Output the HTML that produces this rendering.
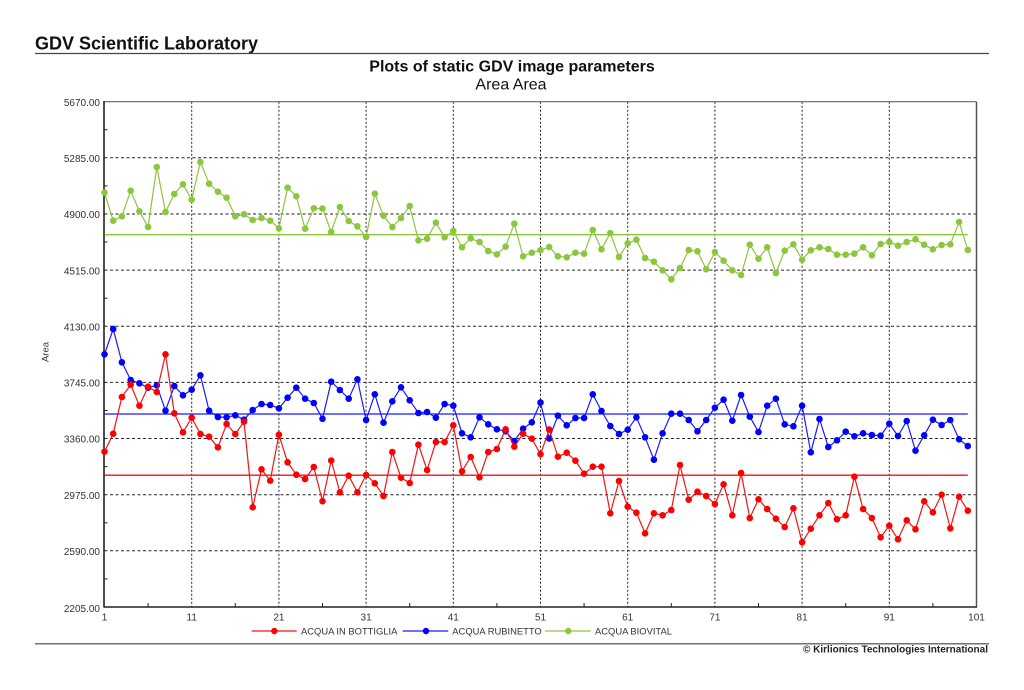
<!DOCTYPE html>
<html><head><meta charset="utf-8"><style>
html,body{margin:0;padding:0;background:#fff;}
body{width:1024px;height:690px;overflow:hidden;}
svg{display:block;font-family:"Liberation Sans",Arial,sans-serif;}
</style></head><body>
<svg width="1024" height="690" viewBox="0 0 1024 690" xmlns="http://www.w3.org/2000/svg">
<defs>
<marker id="mr" markerUnits="userSpaceOnUse" markerWidth="8" markerHeight="8" refX="4" refY="4"><circle cx="4" cy="4" r="3.3" fill="#f00"/></marker>
<marker id="mb" markerUnits="userSpaceOnUse" markerWidth="8" markerHeight="8" refX="4" refY="4"><circle cx="4" cy="4" r="3.3" fill="#0000ff"/></marker>
<marker id="mg" markerUnits="userSpaceOnUse" markerWidth="8" markerHeight="8" refX="4" refY="4"><circle cx="4" cy="4" r="3.3" fill="#8cc63e"/></marker>
</defs>
<!-- header -->
<text x="35" y="49.5" font-size="18" font-weight="bold" fill="#111">GDV Scientific Laboratory</text>
<line x1="35" y1="53.5" x2="989" y2="53.5" stroke="#444" stroke-width="1.2"/>
<text x="512" y="71.5" font-size="16" font-weight="bold" fill="#111" text-anchor="middle">Plots of static GDV image parameters</text>
<text x="511" y="89.5" font-size="16" fill="#111" text-anchor="middle">Area Area</text>

<!-- grid -->
<g stroke="#222" stroke-width="1" stroke-dasharray="3,2.5" fill="none">
<line x1="104.5" y1="157.8" x2="976.5" y2="157.8"/>
<line x1="104.5" y1="214" x2="976.5" y2="214"/>
<line x1="104.5" y1="270.1" x2="976.5" y2="270.1"/>
<line x1="104.5" y1="326.3" x2="976.5" y2="326.3"/>
<line x1="104.5" y1="382.4" x2="976.5" y2="382.4"/>
<line x1="104.5" y1="438.5" x2="976.5" y2="438.5"/>
<line x1="104.5" y1="494.7" x2="976.5" y2="494.7"/>
<line x1="104.5" y1="550.8" x2="976.5" y2="550.8"/>
</g>
<g stroke="#222" stroke-width="1" stroke-dasharray="2,2" fill="none">
<line x1="191.7" y1="101.7" x2="191.7" y2="607"/>
<line x1="278.9" y1="101.7" x2="278.9" y2="607"/>
<line x1="366.1" y1="101.7" x2="366.1" y2="607"/>
<line x1="453.3" y1="101.7" x2="453.3" y2="607"/>
<line x1="540.5" y1="101.7" x2="540.5" y2="607"/>
<line x1="627.7" y1="101.7" x2="627.7" y2="607"/>
<line x1="714.9" y1="101.7" x2="714.9" y2="607"/>
<line x1="802.1" y1="101.7" x2="802.1" y2="607"/>
<line x1="889.3" y1="101.7" x2="889.3" y2="607"/>
</g>
<!-- frame -->
<line x1="104" y1="101.7" x2="976.5" y2="101.7" stroke="#666" stroke-width="1.2"/>
<line x1="976.5" y1="101.7" x2="976.5" y2="607" stroke="#555" stroke-width="1.5"/>
<line x1="104" y1="101" x2="104" y2="607.5" stroke="#222" stroke-width="1.6"/>
<line x1="104" y1="607" x2="977" y2="607" stroke="#222" stroke-width="1.6"/>
<!-- minor ticks -->
<g stroke="#222" stroke-width="1">
<line x1="104" y1="129.7" x2="107.5" y2="129.7"/>
<line x1="104" y1="185.9" x2="107.5" y2="185.9"/>
<line x1="104" y1="242" x2="107.5" y2="242"/>
<line x1="104" y1="298.2" x2="107.5" y2="298.2"/>
<line x1="104" y1="354.3" x2="107.5" y2="354.3"/>
<line x1="104" y1="410.5" x2="107.5" y2="410.5"/>
<line x1="104" y1="466.6" x2="107.5" y2="466.6"/>
<line x1="104" y1="522.8" x2="107.5" y2="522.8"/>
<line x1="104" y1="578.9" x2="107.5" y2="578.9"/>
<line x1="148.1" y1="607" x2="148.1" y2="603"/>
<line x1="235.3" y1="607" x2="235.3" y2="603"/>
<line x1="322.5" y1="607" x2="322.5" y2="603"/>
<line x1="409.7" y1="607" x2="409.7" y2="603"/>
<line x1="496.9" y1="607" x2="496.9" y2="603"/>
<line x1="584.1" y1="607" x2="584.1" y2="603"/>
<line x1="671.3" y1="607" x2="671.3" y2="603"/>
<line x1="758.5" y1="607" x2="758.5" y2="603"/>
<line x1="845.7" y1="607" x2="845.7" y2="603"/>
<line x1="932.9" y1="607" x2="932.9" y2="603"/>
</g>
<!-- y labels -->
<g font-size="10" fill="#333" text-anchor="end">
<text x="100" y="106">5670.00</text>
<text x="100" y="162">5285.00</text>
<text x="100" y="218.2">4900.00</text>
<text x="100" y="274.3">4515.00</text>
<text x="100" y="330.5">4130.00</text>
<text x="100" y="386.6">3745.00</text>
<text x="100" y="442.7">3360.00</text>
<text x="100" y="498.9">2975.00</text>
<text x="100" y="555">2590.00</text>
<text x="100" y="612">2205.00</text>
</g>
<text transform="translate(48.5,352) rotate(-90)" font-size="9.5" fill="#333" text-anchor="middle">Area</text>
<!-- x labels -->
<g font-size="10" fill="#333" text-anchor="middle">
<text x="104.5" y="620.5">1</text>
<text x="191.7" y="620.5">11</text>
<text x="278.9" y="620.5">21</text>
<text x="366.1" y="620.5">31</text>
<text x="453.3" y="620.5">41</text>
<text x="540.5" y="620.5">51</text>
<text x="627.7" y="620.5">61</text>
<text x="714.9" y="620.5">71</text>
<text x="802.1" y="620.5">81</text>
<text x="889.3" y="620.5">91</text>
<text x="976.5" y="620.5">101</text>
</g>

<!-- mean lines -->
<line x1="104.5" y1="234.7" x2="967.8" y2="234.7" stroke="#8cc63e" stroke-width="1.3"/>
<line x1="104.5" y1="414" x2="967.8" y2="414" stroke="#1a1aff" stroke-width="1.3"/>
<line x1="104.5" y1="475.2" x2="967.8" y2="475.2" stroke="#f01515" stroke-width="1.3"/>

<!-- green series -->
<polyline fill="none" stroke="#8cc63e" stroke-width="1.2" marker-start="url(#mg)" marker-mid="url(#mg)" marker-end="url(#mg)" points="104.5,192.7 113.2,220.7 121.9,216.3 130.7,190.7 139.4,211.3 148.1,227 156.8,167 165.5,212 174.3,194 183,184.3 191.7,199.7 200.4,162 209.1,183.7 217.9,191.7 226.6,197.7 235.3,216.3 244,214.3 252.7,220 261.5,218 270.2,220.7 278.9,228.3 287.6,187.7 296.3,196.3 305.1,228.7 313.8,208.3 322.5,208.5 331.2,232 339.9,207 348.7,221 357.4,226.3 366.1,237 374.8,193.7 383.5,215.7 392.3,227 401,218 409.7,206 418.4,240.3 427.1,238.7 435.9,222.7 444.6,237.3 453.3,231 462,247.3 470.7,238.3 479.5,242 488.2,251 496.9,254.3 505.6,246.7 514.3,223.7 523.1,256.3 531.8,252.7 540.5,250.2 549.2,247 557.9,256.3 566.7,257.3 575.4,252.7 584.1,253.7 592.8,230 601.5,249.3 610.3,233 619,257 627.7,243.3 636.4,239.7 645.1,258 653.9,261.7 662.6,270.3 671.3,279.3 680,268 688.7,250 697.5,251.3 706.2,269.3 714.9,252 723.6,260.7 732.3,270.3 741.1,275 749.8,244.7 758.5,258.7 767.2,247.3 775.9,273 784.7,250.7 793.4,244.3 802.1,259.7 810.8,250.3 819.5,247.3 828.3,249 837,254.7 845.7,254.7 854.4,253.7 863.1,247.3 871.9,255.3 880.6,244 889.3,242 898,245.7 906.7,242 915.5,239.3 924.2,244.7 932.9,249.3 941.6,245 950.3,244.3 959.1,222 967.8,250"/>

<!-- blue series -->
<polyline fill="none" stroke="#1a1aff" stroke-width="1.2" marker-start="url(#mb)" marker-mid="url(#mb)" marker-end="url(#mb)" points="104.5,354.3 113.2,329 121.9,362.3 130.7,380 139.4,383.3 148.1,387.7 156.8,385.3 165.5,410.7 174.3,386 183,395.3 191.7,389.7 200.4,375.3 209.1,410.7 217.9,417 226.6,417.3 235.3,415.3 244,419.7 252.7,410 261.5,404 270.2,405 278.9,408.3 287.6,397.7 296.3,387.7 305.1,398.7 313.8,403 322.5,418.8 331.2,381.7 339.9,390 348.7,398.7 357.4,379.3 366.1,420 374.8,394.3 383.5,422.7 392.3,401.3 401,387.3 409.7,400.3 418.4,413 427.1,412 435.9,417.7 444.6,404 453.3,405.7 462,433.3 470.7,437.3 479.5,417.3 488.2,424.3 496.9,429.3 505.6,431.3 514.3,441 523.1,428.7 531.8,422.3 540.5,402.5 549.2,438.5 557.9,415.7 566.7,425.3 575.4,418 584.1,418 592.8,394.3 601.5,411 610.3,426 619,434 627.7,429.7 636.4,417.3 645.1,437.3 653.9,459.7 662.6,433.3 671.3,413.7 680,413.7 688.7,420 697.5,431.3 706.2,420 714.9,407.7 723.6,399.7 732.3,420.7 741.1,395 749.8,416.7 758.5,432 767.2,405.7 775.9,398.7 784.7,424.3 793.4,426.3 802.1,405.7 810.8,452.3 819.5,419 828.3,447 837,440.3 845.7,431.7 854.4,436.3 863.1,433.3 871.9,435 880.6,435.7 889.3,423.7 898,436 906.7,421 915.5,450.7 924.2,435.3 932.9,419.7 941.6,425 950.3,420 959.1,439.3 967.8,446"/>

<!-- red series -->
<polyline fill="none" stroke="#f01515" stroke-width="1.2" marker-start="url(#mr)" marker-mid="url(#mr)" marker-end="url(#mr)" points="104.5,451.7 113.2,433.7 121.9,397 130.7,384.7 139.4,405.7 148.1,386.7 156.8,392 165.5,354.3 174.3,413.3 183,432.3 191.7,417.7 200.4,434 209.1,436.7 217.9,447.3 226.6,424 235.3,434 244,421.7 252.7,507.3 261.5,469.3 270.2,480.7 278.9,434.7 287.6,462.3 296.3,474.7 305.1,479 313.8,467 322.5,501.2 331.2,460.5 339.9,492.3 348.7,475.7 357.4,492.3 366.1,475 374.8,483.3 383.5,496 392.3,452 401,477.7 409.7,483 418.4,444.7 427.1,470 435.9,442 444.6,442 453.3,425.3 462,471.3 470.7,457 479.5,477.3 488.2,452 496.9,449 505.6,429.3 514.3,446.7 523.1,433.7 531.8,438.7 540.5,454.2 549.2,429.5 557.9,456.7 566.7,452.7 575.4,460.7 584.1,473.7 592.8,466.7 601.5,466.7 610.3,513.3 619,481 627.7,506.7 636.4,512.7 645.1,533.3 653.9,513.3 662.6,515.3 671.3,510 680,465 688.7,499.7 697.5,491.7 706.2,496 714.9,504 723.6,484.3 732.3,515.3 741.1,473 749.8,518 758.5,499.3 767.2,509 775.9,518.7 784.7,527 793.4,508.3 802.1,542.3 810.8,528.7 819.5,515.3 828.3,503 837,519.3 845.7,515.3 854.4,476.7 863.1,509 871.9,518 880.6,537.3 889.3,525.7 898,539.3 906.7,520.3 915.5,529.3 924.2,501.3 932.9,512.3 941.6,494.7 950.3,528.3 959.1,496.7 967.8,510.7"/>

<!-- legend -->
<line x1="251.7" y1="631" x2="296.7" y2="631" stroke="#f01515" stroke-width="1.2"/>
<circle cx="274.3" cy="631" r="3.2" fill="#f00"/>
<text x="301" y="634.5" font-size="9.4" fill="#333">ACQUA IN BOTTIGLIA</text>
<line x1="402.7" y1="631" x2="448.3" y2="631" stroke="#1a1aff" stroke-width="1.2"/>
<circle cx="426" cy="631" r="3.2" fill="#0000ff"/>
<text x="452.3" y="634.5" font-size="9.4" fill="#333">ACQUA RUBINETTO</text>
<line x1="545" y1="631" x2="590.7" y2="631" stroke="#8cc63e" stroke-width="1.2"/>
<circle cx="568.3" cy="631" r="3.2" fill="#8cc63e"/>
<text x="595" y="634.5" font-size="9.4" fill="#333">ACQUA BIOVITAL</text>

<line x1="35" y1="643.8" x2="989" y2="643.8" stroke="#444" stroke-width="1.2"/>
<text x="988" y="652.5" font-size="10" font-weight="bold" fill="#222" text-anchor="end">© Kirlionics Technologies International</text>
</svg>
</body></html>
